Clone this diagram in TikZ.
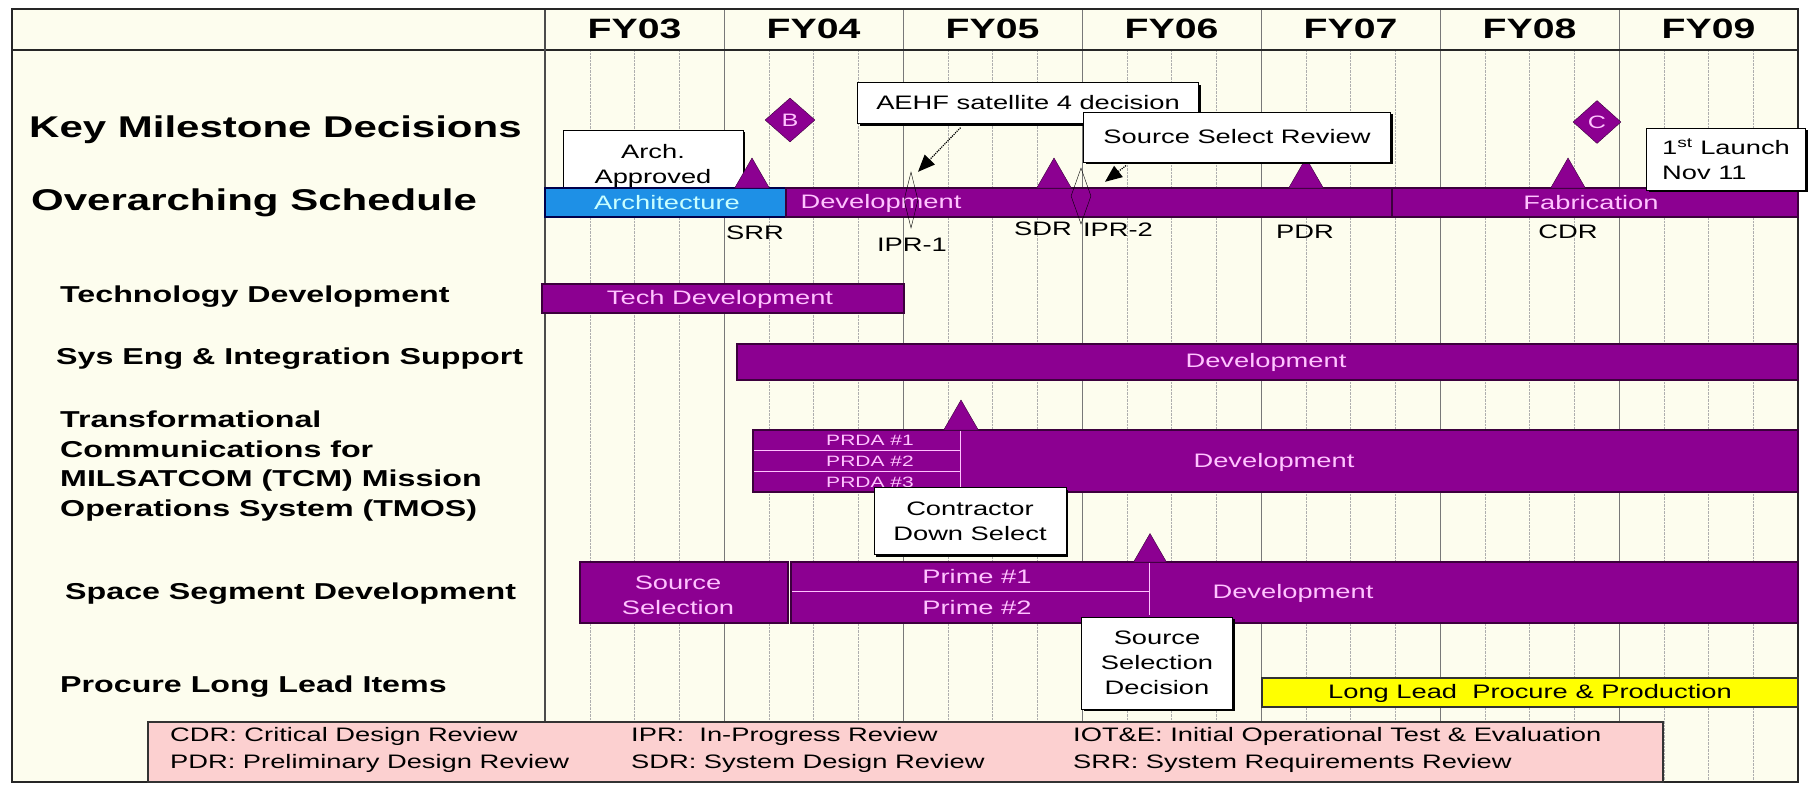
\documentclass[tikz,border=0pt]{standalone}
\usepackage{fontspec}
\setmainfont{Liberation Sans}[FakeStretch=1.4]
\usepackage{tikz}
\usetikzlibrary{shapes.geometric, arrows, arrows.meta, positioning, calc, shadows}

\definecolor{chartbg}{RGB}{253,253,238}
\definecolor{gridgray}{RGB}{120,120,120}
\definecolor{schedpurple}{RGB}{140,0,145}
\definecolor{purpleedge}{RGB}{60,0,60}
\definecolor{archblue}{RGB}{30,144,230}
\definecolor{bartext}{RGB}{255,195,255}
\definecolor{archtext}{RGB}{200,255,255}
\definecolor{legendpink}{RGB}{252,208,208}
\definecolor{leadyellow}{RGB}{255,255,0}

\begin{document}
\begin{tikzpicture}[
        x=1pt, y=-1pt,
        >=stealth,
        font=\fontsize{19.5}{25}\selectfont,
        biglabel/.style={anchor=west, inner sep=0pt, font=\fontsize{30}{36}\selectfont\bfseries},
        rowlabel/.style={anchor=west, inner sep=0pt, align=left, font=\fontsize{23}{29.5}\selectfont\bfseries},
        yearlabel/.style={font=\fontsize{28}{32}\selectfont\bfseries},
        bar/.style={draw=purpleedge, fill=schedpurple, line width=1.2pt},
        bartxt/.style={text=bartext, inner sep=0pt, align=center},
        mstone/.style={regular polygon, regular polygon sides=3, minimum size=40pt, inner sep=0pt, outer sep=0pt, fill=schedpurple, draw=purpleedge, anchor=south},
        decision/.style={diamond, fill=schedpurple, draw=purpleedge, inner sep=0pt, text=bartext, font=\fontsize{18}{20}\selectfont},
        ipr/.style={diamond, draw=black, thin, inner sep=0pt, minimum width=14pt, minimum height=56pt},
        mslabel/.style={inner sep=0pt},
        callout/.style={rectangle, draw=black, line width=1pt, fill=white, inner sep=2pt, align=center,
            drop shadow={shadow xshift=2pt, shadow yshift=-2pt, fill=black, opacity=1}},
        callarrow/.style={-{Triangle[length=17pt,width=14pt]}, line width=1.2pt, densely dotted, shorten <=5pt},
        legtxt/.style={anchor=west, inner sep=0pt}
    ]

    % 1. Nen va khung
    \useasboundingbox (0,0) rectangle (1814,785);
    \fill[white] (0,0) rectangle (1814,785);
    \fill[chartbg] (12,9) rectangle (1798,782);

    % 2. Luoi thoi gian (quy va nam)
    \foreach \q in {1,...,27}
        \draw[gridgray!60, densely dotted] ({545+44.75*\q},50) -- ({545+44.75*\q},782);
    \foreach \q in {1,...,6}
        \draw[gridgray, line width=1pt] ({545+179*\q},9) -- ({545+179*\q},782);
    \draw[black!85, line width=1.5pt] (12,50) -- (1798,50);
    \draw[black!70, line width=1.2pt] (545,9) -- (545,782);
    \draw[black!85, line width=1.5pt] (12,9) rectangle (1798,782);

    \foreach \yr [count=\i from 0] in {FY03,FY04,FY05,FY06,FY07,FY08,FY09}
        \node[yearlabel] (y\i) at ({634.5+179*\i},29) {\yr};

    % 3. Nhan cac hang ben trai
    \node[biglabel] (keyms) at (29,130) {Key Milestone Decisions};
    \node[biglabel] (overall) at (31,203) {Overarching Schedule};
    \node[rowlabel] (techrow) at (60,297) {Technology Development};
    \node[rowlabel] (sysrow) at (56,359) {Sys Eng \& Integration Support};
    \node[rowlabel] (tmosrow) at (60,466) {Transformational\\Communications for\\MILSATCOM (TCM) Mission\\Operations System (TMOS)};
    \node[rowlabel] (spacerow) at (65,594) {Space Segment Development};
    \node[rowlabel] (leadrow) at (60,687) {Procure Long Lead Items};

    % 4. Overarching Schedule
    \node[callout, minimum width=180pt, minimum height=72pt] (archok) at (653,166) {Arch.\\Approved};
    \filldraw[bar, draw=black!70!blue, fill=archblue] (545,188) rectangle (786,217);
    \node[bartxt, text=archtext] (archtxt) at (667,203) {Architecture};
    \filldraw[bar] (786,188) rectangle (1392,217);
    \node[bartxt] (devtxt) at (881,203) {Development};
    \filldraw[bar] (1392,188) rectangle (1798,217);
    \node[bartxt] (fabtxt) at (1591,203) {Fabrication};

    \node[mstone] (srr) at (752,188) {};
    \node[mstone] (sdr) at (1054,188) {};
    \node[mstone] (pdr) at (1306,188) {};
    \node[mstone] (cdr) at (1568,188) {};
    \node[ipr] (ipr1) at (911,200) {};
    \node[ipr, minimum width=20pt] (ipr2) at (1081,196) {};

    \node[mslabel] (srrlbl) at (755,233) {SRR};
    \node[mslabel] (sdrlbl) at (1043,229) {SDR};
    \node[mslabel] (ipr1lbl) at (912,245) {IPR-1};
    \node[mslabel] (ipr2lbl) at (1118,230) {IPR-2};
    \node[mslabel] (pdrlbl) at (1305,232) {PDR};
    \node[mslabel] (cdrlbl) at (1568,232) {CDR};

    % Key Milestone Decisions
    \node[decision, minimum width=50pt, minimum height=44pt] (msb) at (790,120) {B};
    \node[decision, minimum width=48pt, minimum height=43pt] (msc) at (1597,122) {C};

    \node[callout, minimum width=341pt, minimum height=41pt] (aehf) at (1028,103) {AEHF satellite 4 decision};
    \node[callout, minimum width=307pt, minimum height=50pt] (ssrev) at (1237,137) {Source Select Review};
    \node[callout, minimum width=159pt, minimum height=62pt, align=left] (launch) at (1726,159) {1\textsuperscript{st} Launch\\Nov 11};

    \draw[callarrow] ([xshift=-64pt]aehf.south) -- ([xshift=7pt]ipr1.north);
    \draw[callarrow] ([xshift=-107pt]ssrev.south) -- ([xshift=24pt,yshift=-14pt]ipr2.north);

    % 5. Technology Development
    \filldraw[bar] (542,284) rectangle (904,313);
    \node[bartxt] (techtxt) at (720,299) {Tech Development};

    % 6. Sys Eng & Integration Support
    \filldraw[bar] (737,344) rectangle (1798,380);
    \node[bartxt] (systxt) at (1266,362) {Development};

    % 7. TMOS
    \filldraw[bar] (753,430) rectangle (1798,492);
    \draw[bartext, thick] (754,450) -- (960,450) (754,471) -- (960,471) (960,431) -- (960,491);
    \node[bartxt, font=\fontsize{15}{17}\selectfont] (prda1) at (870,440) {PRDA \#1};
    \node[bartxt, font=\fontsize{15}{17}\selectfont] (prda2) at (870,461) {PRDA \#2};
    \node[bartxt, font=\fontsize{15}{17}\selectfont] (prda3) at (870,482) {PRDA \#3};
    \node[bartxt] (tmostxt) at (1274,462) {Development};
    \node[mstone] (tmosms) at (961,430) {};
    \node[callout, minimum width=192pt, minimum height=67pt] (downsel) at (970,521) {Contractor\\Down Select};

    % 8. Space Segment Development
    \filldraw[bar] (580,562) rectangle (788,623);
    \node[bartxt] (srcseltxt) at (678,595) {Source\\Selection};
    \filldraw[bar] (791,562) rectangle (1798,623);
    \draw[bartext, thick] (792,591) -- (1149,591) (1149,563) -- (1149,615);
    \node[bartxt] (prime1) at (977,577) {Prime \#1};
    \node[bartxt] (prime2) at (977,608) {Prime \#2};
    \node[bartxt] (spacetxt) at (1293,593) {Development};
    \node[mstone, minimum size=38pt] (spacems) at (1150,562) {};
    \node[callout, minimum width=151pt, minimum height=92pt] (srcdec) at (1157,663) {Source\\Selection\\Decision};

    % 9. Procure Long Lead Items
    \filldraw[bar, draw=black!80, fill=leadyellow] (1262,678) rectangle (1798,707);
    \node[inner sep=0pt] (leadtxt) at (1530,693) {Long Lead\ \ Procure \& Production};

    % 10. Chu giai
    \filldraw[draw=black!80, fill=legendpink, line width=1.2pt] (148,722) rectangle (1663,782);
    \node[legtxt] (cdrdef) at (170,736) {CDR: Critical Design Review};
    \node[legtxt] (pdrdef) at (170,763) {PDR: Preliminary Design Review};
    \node[legtxt] (iprdef) at (631,736) {IPR:\ \ In-Progress Review};
    \node[legtxt] (sdrdef) at (631,763) {SDR: System Design Review};
    \node[legtxt] (iotdef) at (1073,736) {IOT\&E: Initial Operational Test \& Evaluation};
    \node[legtxt] (srrdef) at (1073,763) {SRR: System Requirements Review};

    \end{tikzpicture}
\end{document}
